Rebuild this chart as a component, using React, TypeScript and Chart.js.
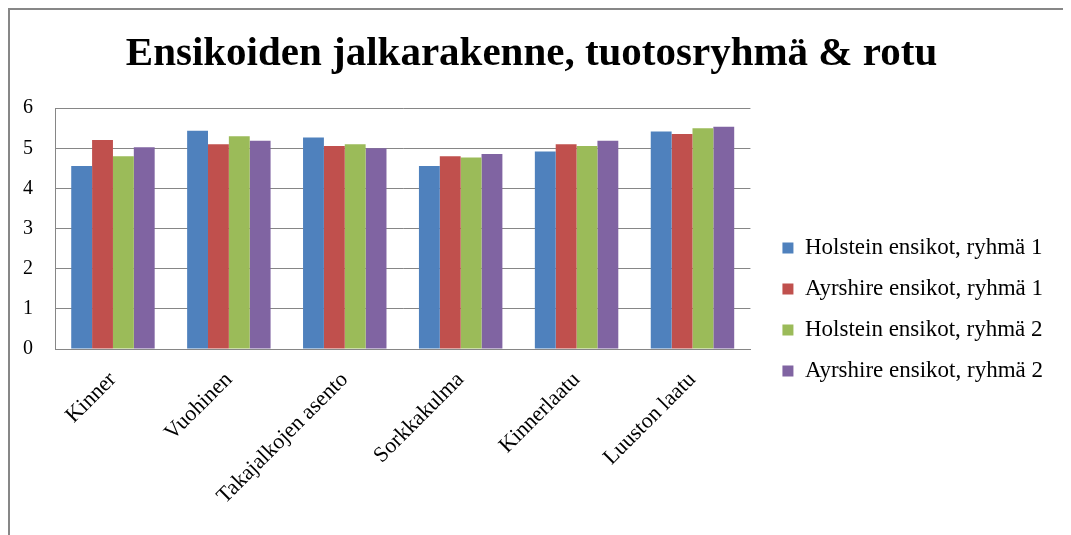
import React, { useEffect, useRef } from "react";
import { Chart, registerables } from "chart.js";

Chart.register(...registerables);

const titleText = "Ensikoiden jalkarakenne, tuotosryhmä & rotu";
const categories = [
  "Kinner",
  "Vuohinen",
  "Takajalkojen asento",
  "Sorkkakulma",
  "Kinnerlaatu",
  "Luuston laatu",
];
const seriesNames = [
  "Holstein ensikot, ryhmä 1",
  "Ayrshire ensikot, ryhmä 1",
  "Holstein ensikot, ryhmä 2",
  "Ayrshire ensikot, ryhmä 2",
];
const holstein1 = [4.56, 5.44, 5.27, 4.56, 4.92, 5.42];
const ayrshire1 = [5.21, 5.1, 5.06, 4.8, 5.1, 5.36];
const holstein2 = [4.8, 5.3, 5.1, 4.77, 5.06, 5.5];
const ayrshire2 = [5.03, 5.19, 5.0, 4.86, 5.19, 5.54];
const seriesColors = ["#4F81BD", "#C0504D", "#9BBB59", "#8064A2"];
const yMin = 0;
const yMax = 6;
const yStep = 1;

const FONT = "'Liberation Serif', 'Times New Roman', serif";
const W = 1057;
const H = 525;

export default function App() {
  const ref = useRef<HTMLCanvasElement | null>(null);

  useEffect(() => {
    document.documentElement.style.overflow = "hidden";
    const canvas = ref.current;
    if (!canvas) return;
    const seriesValues = [holstein1, ayrshire1, holstein2, ayrshire2];
    const chart = new Chart(canvas, {
      type: "bar",
      data: {
        labels: categories,
        datasets: seriesValues.map((vals, i) => ({
          label: seriesNames[i],
          data: vals,
          backgroundColor: seriesColors[i],
          borderWidth: 0,
          categoryPercentage: 0.72,
          barPercentage: 1.0,
        })),
      },
      options: {
        responsive: false,
        animation: false,
        devicePixelRatio: 1,
        layout: { padding: { left: 0, right: 14, top: 0, bottom: 24 } },
        plugins: {
          tooltip: { enabled: false },
          title: {
            display: true,
            text: titleText,
            color: "#000",
            font: { family: FONT, size: 41, weight: "bold", lineHeight: 1.2 },
            padding: { top: 20, bottom: 29 },
          },
          legend: {
            display: true,
            position: "right",
            align: "center",
            maxWidth: 400,
            title: {
              display: true,
              text: " ",
              font: { family: FONT, size: 10, lineHeight: 1 },
              padding: { top: 88, bottom: 0 },
            },
            labels: {
              color: "#000",
              font: { family: FONT, size: 23 },
              boxWidth: 11,
              boxHeight: 11,
              padding: 18,
            },
          },
        },
        scales: {
          x: {
            grid: { display: false, drawTicks: false, tickLength: 0 },
            border: { display: true, color: "#868686", width: 1 },
            ticks: {
              color: "#000",
              font: { family: FONT, size: 22 },
              maxRotation: 45,
              minRotation: 45,
              padding: 18,
            },
            afterFit: (s: any) => {
              s.height = 162;
            },
          },
          y: {
            min: yMin,
            max: yMax,
            grid: { display: true, color: "#868686", lineWidth: 1, drawTicks: false, tickLength: 0 },
            border: { display: true, color: "#868686", width: 1 },
            ticks: {
              stepSize: yStep,
              color: "#000",
              font: { family: FONT, size: 20 },
              padding: 22,
            },
            afterFit: (s: any) => {
              s.width = 45;
            },
          },
          gap: {
            type: "linear",
            position: "right",
            display: true,
            grid: { display: false, drawTicks: false },
            border: { display: false },
            ticks: { display: false },
            afterFit: (s: any) => {
              s.width = 14;
            },
          },
        },
      } as any,
    });
    return () => chart.destroy();
  }, []);

  return (
    <div
      style={{
        width: W,
        height: H,
        borderTop: "2px solid #878787",
        borderLeft: "2px solid #878787",
        borderRight: "2px solid #878787",
        background: "#fff",
      }}
    >
      <canvas ref={ref} width={W} height={H} style={{ display: "block", width: W, height: H }} />
    </div>
  );
}
